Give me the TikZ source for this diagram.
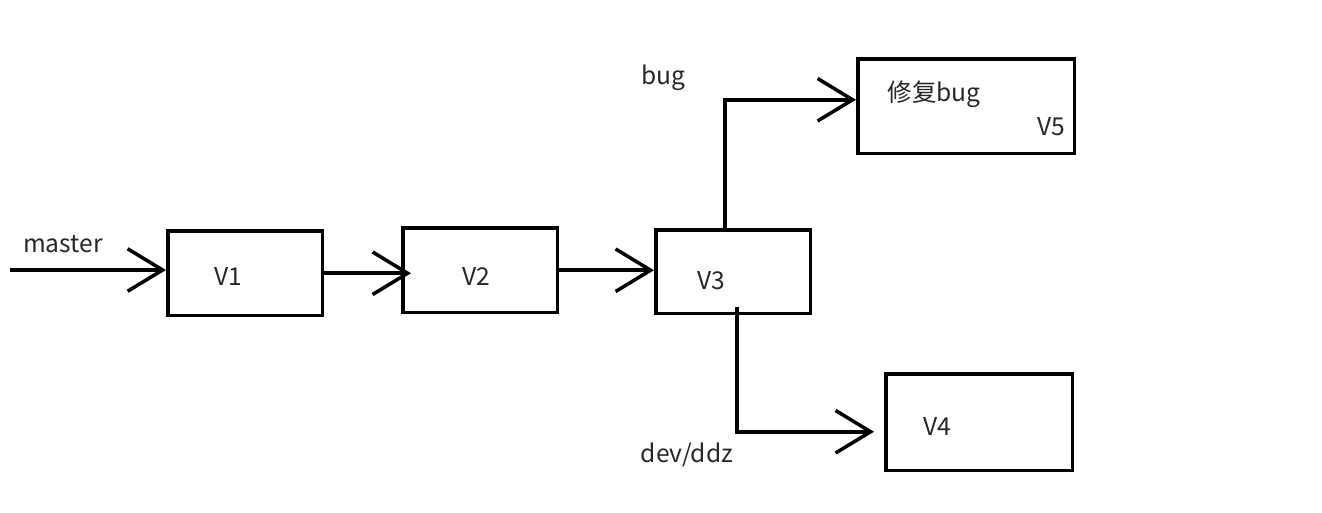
\documentclass[tikz,border=0pt]{standalone}
\usepackage{fontspec}
\setmainfont{Noto Sans CJK SC}
\usetikzlibrary{arrows.meta,positioning}

\tikzset{
	box/.style  = {draw, line width=2pt, rectangle, inner sep=0pt, anchor=north west},
	txt/.style  = {font=\fontsize{14}{16}\selectfont, inner sep=0pt, text=black!85},
	link/.style = {draw, line width=2pt, -{Straight Barb[length=0.7cm, width=0.85cm, line width=2pt]}}
}

\begin{document}
\begin{tikzpicture}[x=0.02cm, y=-0.02cm]

	\useasboundingbox (0,0) rectangle (1322,513);

	% the versions as boxes
	\node[box, minimum width=3.1cm, minimum height=1.7cm] (v1) at (166,229) {};
	\node[box, minimum width=3.1cm, minimum height=1.7cm] (v2) at (401,226) {};
	\node[box, minimum width=3.1cm, minimum height=1.68cm] (v3) at (654,228) {};
	\node[box, minimum width=4.34cm, minimum height=1.9cm] (v5) at (856,57) {};
	\node[box, minimum width=3.74cm, minimum height=1.94cm] (v4) at (884,372) {};

	% texts
	\begin{scope}[every node/.style={txt}]
	\node (t1) at (228,276) {V1};
	\node (t2) at (476,276) {V2};
	\node (t3) at (711,281) {V3};
	\node (t5a) at (934,94) {修复bug};
	\node (t5) at (1051,127) {V5};
	\node (t4) at (937,426) {V4};
	\node (master) at (63,244) {master};
	\node (bug) at (663,78) {bug};
	\node (dev) at (687,455) {dev/ddz};
	\end{scope}

	% branch lines
	\coordinate (m0) at (10,270);
	\draw[link] (m0) -- (m0 -| v1.west);
	\draw[link] (v1.east) -- ([xshift=0.2cm]v1.east -| v2.west);
	\draw[link] (v2.east) -- (v2.east -| v3.west);
	\draw[link] ([xshift=-0.17cm]v3.north) |- ([yshift=0.13cm]v5.west);
	\draw[link] ([xshift=0.07cm, yshift=0.16cm]v3.south) |- ([xshift=-0.2cm, yshift=-0.19cm]v4.west);

\end{tikzpicture}
\end{document}
